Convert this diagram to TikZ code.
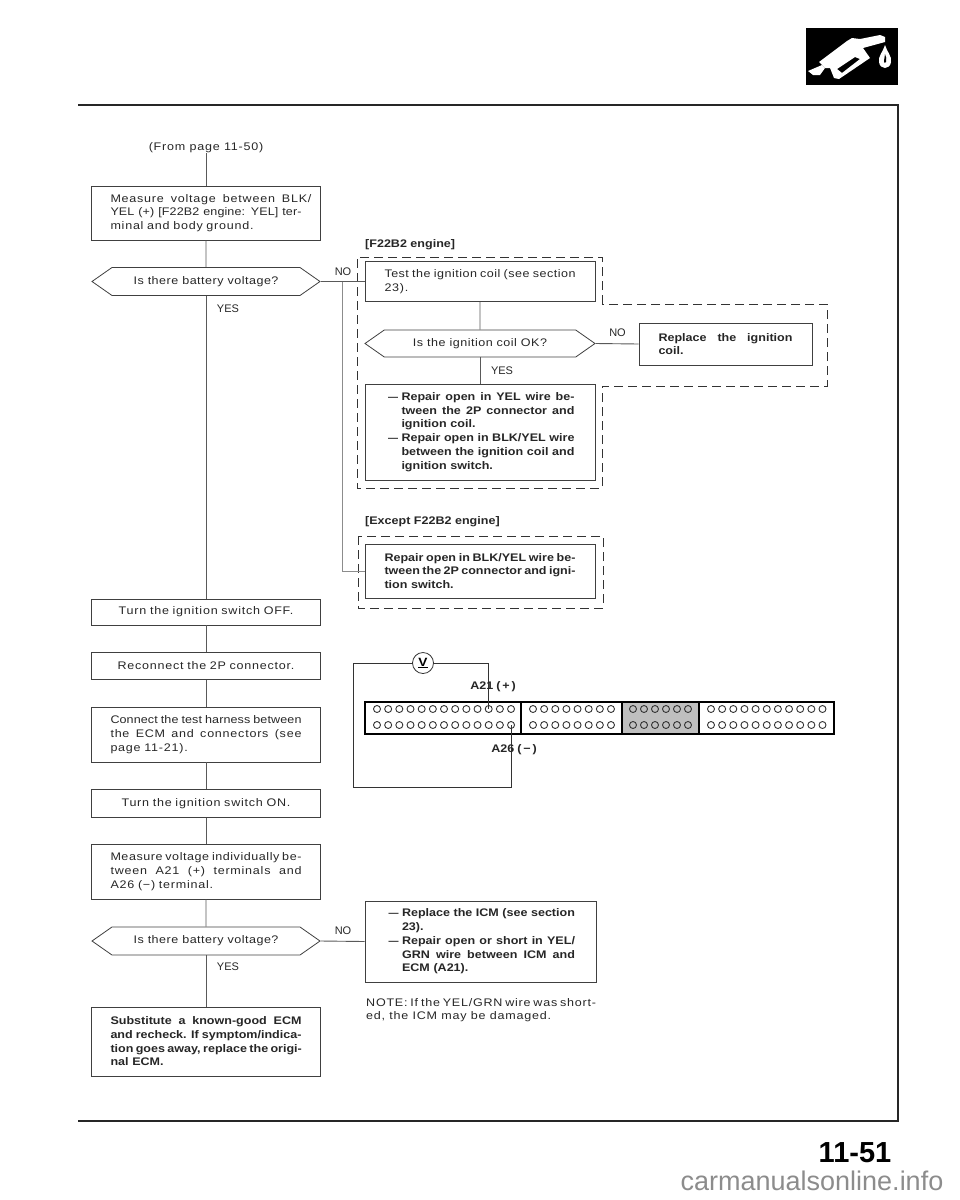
\documentclass[tikz,border=0pt]{standalone}
\usepackage{fontspec}
\setmainfont[FakeStretch=1.14,LetterSpace=7]{Liberation Sans}
\newfontfamily\plainfont{Liberation Sans}
\usetikzlibrary{shapes.symbols}
\newcommand{\fl}[2][191pt]{\makebox[#1][s]{\spaceskip=0pt\xspaceskip=0pt #2}}
\newcommand{\tight}[1]{\addfontfeature{LetterSpace=#1}}
\newcommand{\dashitem}[1]{\makebox[17pt][c]{\plainfont\bfseries\fontsize{10}{10}\selectfont —}\fl[173pt]{#1}}
\newcommand{\indfl}[1]{\hspace*{17pt}\fl[173pt]{#1}}
\newcommand{\ind}[1]{\hspace*{17pt}#1}
\tikzset{
  txt/.style={font=\fontsize{11}{13.7}\selectfont, text=black!85},
  stepbox/.style={txt, draw=black!75, line width=.8pt, rectangle, inner sep=0pt, minimum width=229pt, text width=191pt, align=left},
  boldbox/.style={stepbox, font=\fontsize{11}{13.7}\selectfont\bfseries\addfontfeature{LetterSpace=0}},
  shortbox/.style={stepbox, align=center},
  askbox/.style={txt, font=\fontsize{11}{13.7}\selectfont\addfontfeature{LetterSpace=4.5}, draw=black!75, line width=.8pt, signal, signal to=east and west, signal pointer angle=70, inner sep=0pt, minimum width=228pt, minimum height=28pt},
  conn/.style={draw=black!65, line width=.9pt},
  dashbox/.style={draw=black!80, line width=.9pt, dash pattern=on 9pt off 5pt},
  answer/.style={font=\plainfont\fontsize{11}{13.7}\selectfont, text=black!85, inner sep=0pt},
  head/.style={font=\fontsize{11}{13.7}\selectfont\bfseries\addfontfeature{LetterSpace=0}, text=black!85, inner sep=0pt, anchor=west},
  block/.style={draw=black, line width=1.6pt, rectangle, inner sep=0pt, minimum height=32pt},
  pinhole/.style={draw=black!80, line width=.9pt, circle, inner sep=0pt, minimum size=7pt},
  wire/.style={draw=black!80, line width=.8pt},
}
\begin{document}
\begin{tikzpicture}[x=1pt, y=-1pt]
  \useasboundingbox (0,0) rectangle (960,1200);
  \draw[line width=1.5pt, black!85] (78,105) -- (898,105) -- (898,1121) -- (78,1121);

  \fill[black] (806,28) rectangle (898,85);
  \fill[white] (808,71) -- (822,65) -- (825,68) -- (820,75) -- (813,75) -- cycle;
  \fill[white, even odd rule] (819,62) -- (847,41) -- (852,38) -- (860,39) -- (880,35) -- (885,37) -- (885,42) -- (863,48) -- (870,58) -- (839,79) -- (834,78) -- (830,68) -- (825,68) -- cycle
    (837,69) -- (855,57) -- (860,59) -- (842,73) -- cycle;
  \fill[white] (885,45) .. controls (887,52) and (892,56) .. (891,62) .. controls (890,70) and (880,70) .. (879,62) .. controls (878,56) and (883,52) .. (885,45) -- cycle;
  \fill[black] (885,54) .. controls (886,57) and (887,59) .. (886,62) .. controls (885,64) and (884,63) .. (884,61) -- cycle;

  \node[txt, inner sep=0pt] (frompage) at (206,148) {(From page 11-50)};
  \node[stepbox, minimum height=54pt] (measurea) at (206,213) {\fl[201pt]{Measure voltage between BLK/}\\ \fl{\tight{1}YEL (+) [F22B2 engine: YEL] ter-}\\ minal and body ground.};
  \node[askbox] (aska) at (206,281.5) {Is there battery voltage?};
  \node[answer] (yesa) at (228,309) {YES};
  \node[answer] (noa) at (343,272) {NO};
  \node[shortbox, minimum height=26pt] (switchoff) at (206,612) {Turn the ignition switch OFF.};
  \node[shortbox, minimum height=27pt] (reconnect) at (206,666) {Reconnect the 2P connector.};
  \node[stepbox, minimum height=55pt] (harness) at (206,734.5) {\fl{\tight{1}Connect the test harness between}\\ \fl{the ECM and connectors (see}\\ page 11-21).};
  \node[shortbox, minimum height=28pt] (switchon) at (206,803.5) {Turn the ignition switch ON.};
  \node[stepbox, minimum height=55pt] (measureb) at (206,871.5) {\fl{\tight{5}Measure voltage individually be-}\\ \fl{tween A21 (+) terminals and}\\ A26 (−) terminal.};
  \node[askbox] (askb) at (206,941) {Is there battery voltage?};
  \node[answer] (yesb) at (228,967) {YES};
  \node[answer] (nob) at (343,930.5) {NO};
  \node[boldbox, minimum height=69pt] (substitute) at (206,1041.5) {\fl{Substitute a known-good ECM}\\ \fl{and recheck. If symptom/indica-}\\ \fl{tion goes away, replace the origi-}\\ nal ECM.};

  \node[head] (headf) at (365,245) {[F22B2 engine]};
  \node[stepbox, minimum width=230pt, minimum height=40pt] (testcoil) at (480,281.5) {\fl{\tight{4.5}Test the ignition coil (see section}\\ 23).};
  \node[askbox, minimum width=230pt, minimum height=27pt] (askc) at (480,343.5) {Is the ignition coil OK?};
  \node[answer] (yesc) at (502,371) {YES};
  \node[answer] (noc) at (617.5,333) {NO};
  \node[boldbox, minimum width=173pt, text width=134pt, minimum height=42pt] (replacecoil) at (725.5,344) {\fl[134pt]{Replace the ignition}\\ coil.};
  \node[boldbox, minimum width=230pt, minimum height=96pt] (repairf) at (480,432) {\dashitem{Repair open in YEL wire be-}\\ \indfl{tween the 2P connector and}\\ \ind{ignition coil.}\\ \dashitem{Repair open in BLK/YEL wire}\\ \indfl{between the ignition coil and}\\ \ind{ignition switch.}};

  \node[head] (heade) at (365,522) {[Except F22B2 engine]};
  \node[boldbox, minimum width=230pt, minimum height=54pt] (repaire) at (480,571) {\fl{Repair open in BLK/YEL wire be-}\\ \fl{tween the 2P connector and igni-}\\ tion switch.};

  \node[boldbox, minimum width=231pt, minimum height=81pt] (replaceicm) at (480.5,941.5) {\dashitem{Replace the ICM (see section}\\ \ind{23).}\\ \dashitem{Repair open or short in YEL/}\\ \indfl{GRN wire between ICM and}\\ \ind{ECM (A21).}};
  \node[txt, inner sep=0pt, anchor=north west, align=left] (note) at (366,998) {\fl[228pt]{NOTE: If the YEL/GRN wire was short-}\\ ed, the ICM may be damaged.};

  \draw[dashbox] (602,304) -- (602,257) -- (357,257) -- (357,488) -- (602,488) -- (602,386) -- (827,386) -- (827,304) -- cycle;
  \draw[dashbox] (358,536) rectangle (603,608);

  \draw[conn] (frompage) -- (measurea);
  \draw[conn] (measurea) -- (aska);
  \draw[conn] (aska.south) -- (switchoff);
  \draw[conn] (switchoff) -- (reconnect);
  \draw[conn] (reconnect) -- (harness);
  \draw[conn] (harness) -- (switchon);
  \draw[conn] (switchon) -- (measureb);
  \draw[conn] (measureb) -- (askb);
  \draw[conn] (askb.south) -- (substitute);
  \draw[conn] (aska.east) -- (testcoil.west);
  \coordinate (branch) at (342.6,281.5);
  \draw[conn, black!45] (branch) |- (repaire.west);
  \draw[conn] (testcoil) -- (askc);
  \draw[conn] (askc.south) -- (repairf);
  \draw[conn] (askc.east) -- (replacecoil.west);
  \draw[conn] (askb.east) -- (replaceicm.west);

  \node[block, minimum width=156pt] (blocka) at (443,718) {};
  \node[block, minimum width=101pt] (blockb) at (571.5,718) {};
  \node[block, minimum width=77pt, fill=black!25] (blockc) at (660.5,718) {};
  \node[block, minimum width=135pt] (blockd) at (766.5,718) {};
  \foreach \rowname/\rowy in {a/709, b/725} {
    \foreach \i in {1,...,13}
      \node[pinhole] (pina\rowname\i) at ({377+(\i-1)*11.17},\rowy) {};
    \foreach \i in {1,...,8}
      \node[pinhole] (pinb\rowname\i) at ({533+(\i-1)*11.14},\rowy) {};
    \foreach \i in {1,...,6}
      \node[pinhole] (pinc\rowname\i) at ({633+(\i-1)*11},\rowy) {};
    \foreach \i in {1,...,11}
      \node[pinhole] (pind\rowname\i) at ({711+(\i-1)*11.15},\rowy) {};
  }
  \node[wire, circle, inner sep=0pt, minimum size=21pt, font=\fontsize{12}{12}\selectfont\bfseries] (meter) at (423,663) {\underline{V}};
  \coordinate (wirecorner) at (353,787);
  \draw[wire] (meter.east) -| (pinaa11.center);
  \draw[wire] (meter.west) -| (wirecorner) -| (pinab13.center);
  \node[head, anchor=center] (labela) at (493,687) {A21\;(\,+\,)};
  \node[head, anchor=center] (labelb) at (514,750) {A26\;(\,−\,)};

  \node[inner sep=0pt, font=\plainfont\fontsize{29}{30}\selectfont\bfseries] (pageno) at (855,1153) {11-51};
  \node[inner sep=0pt, text=black!45, font=\plainfont\fontsize{27}{30}\selectfont] (site) at (812,1181) {carmanualsonline.info};
\end{tikzpicture}
\end{document}
